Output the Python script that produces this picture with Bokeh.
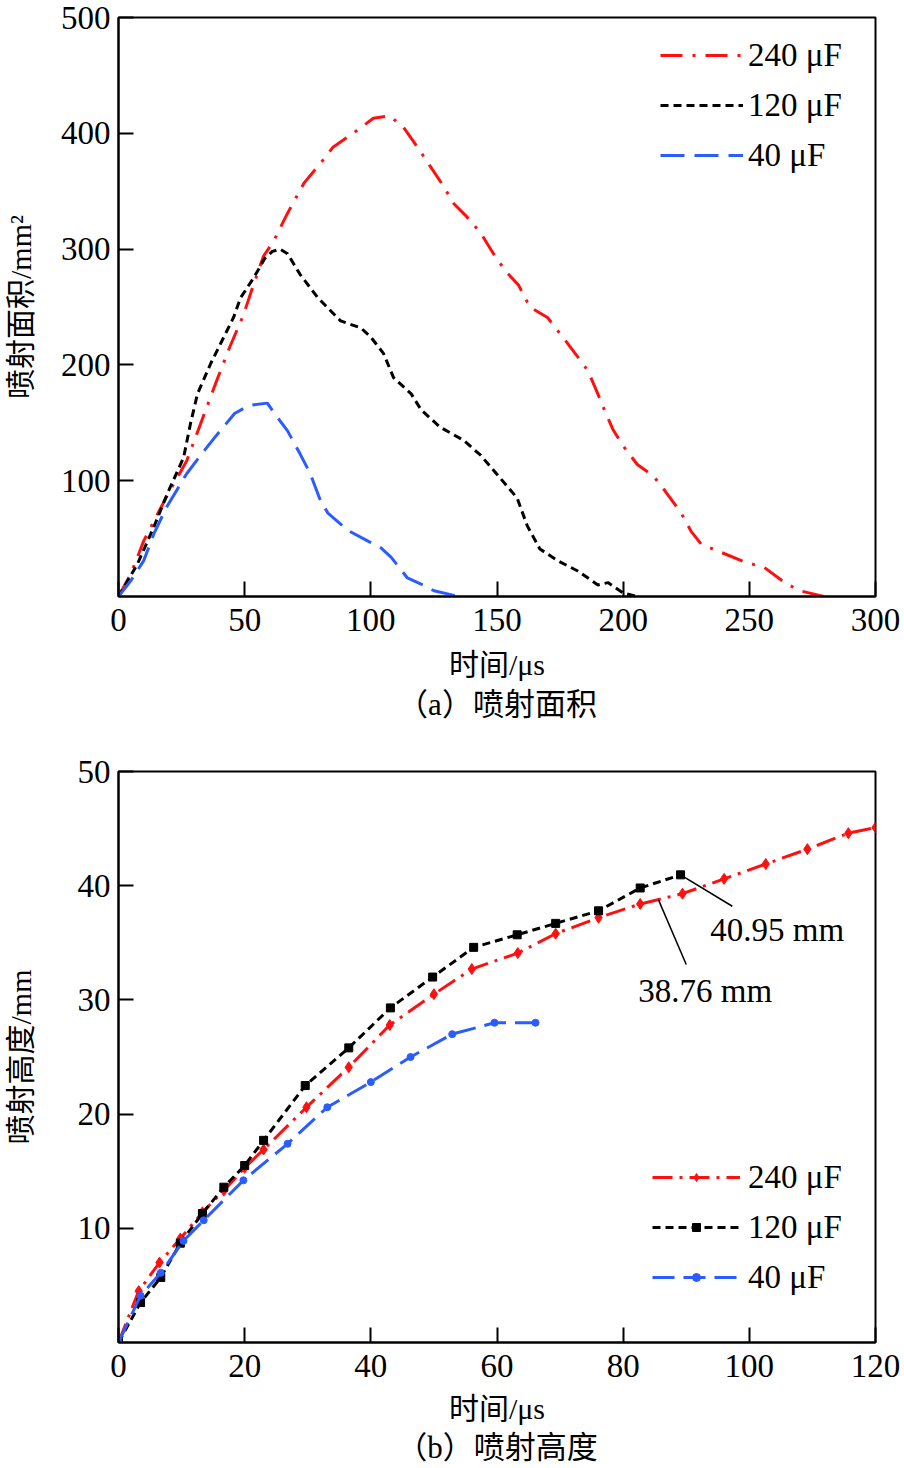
from bokeh.plotting import figure
from bokeh.models import Range1d, FixedTicker, Legend, LegendItem, Title, Label
from bokeh.layouts import column
from bokeh.embed import file_html
from bokeh.resources import INLINE

# ---------------- data: (a) injection area ----------------
t_240 = [0, 5, 10, 19, 27, 32.5, 39, 44, 49.5, 53, 57.5, 61.5, 67, 73.5, 80, 85, 93, 101, 107.5,
         113, 118.5, 123.7, 128, 133, 138, 143.5, 148.6, 153.4, 158.5, 163, 170, 175, 182, 186,
         189, 193, 196, 200, 205.6, 212, 217, 223, 227, 231, 239, 248, 256, 264, 270, 279.5]
a_240 = [0, 20, 48, 86, 117, 149, 187, 215, 243, 266, 294, 307, 331, 357, 374, 388, 400, 413, 415,
         405, 388, 371, 357, 339, 328, 314, 296, 281, 269, 250, 241, 227, 207, 195,
         180, 159, 144, 130, 114, 104, 90, 72, 56, 45, 38, 30, 25, 12, 5, 0]

t_120 = [0, 7.5, 14, 19.4, 25.8, 28.5, 31.3, 36.5, 45.6, 48.4, 53.5, 58, 61, 64, 67, 72, 79, 88,
         96, 100, 105, 109, 116, 120, 127.6, 136.7, 143.5, 151, 158, 162, 167, 174, 182, 190,
         194, 200, 205.6]
a_120 = [0, 28, 60, 89, 120, 149, 175, 201, 241, 258, 275, 292, 298, 300, 296, 278, 258, 238,
         232, 224, 210, 189, 175, 161, 146, 135, 122, 103, 85, 61, 41, 31, 22, 10,
         12, 3, 0]

t_40 = [0, 5, 10, 14, 19, 27, 34, 38, 46, 51.7, 59, 61.5, 67, 72, 76, 80, 83, 91, 98.7, 104,
        108, 114.5, 119.7, 125, 133, 136]
a_40 = [0, 14, 31, 54, 77, 106, 126, 137, 158, 165, 167, 159, 143, 123, 106, 83, 72, 57, 48, 42,
        34, 16, 11, 5, 1, 0]

# ---------------- data: (b) injection height ----------------
h_t_240 = [0, 3.2, 6.5, 9.8, 13.3, 16.7, 20, 23, 29.8, 36.5, 43, 50, 56, 63.3, 69.3, 76.1,
           82.7, 89.4, 96, 102.6, 109.2, 115.7, 120]
h_v_240 = [0, 4.5, 7.0, 9.1, 11.4, 13.3, 15.3, 16.9, 20.6, 24.1, 27.8, 30.5, 32.7, 34.1, 35.8,
           37.2, 38.4, 39.3, 40.6, 41.9, 43.2, 44.6, 45.1]

h_t_120 = [0, 3.5, 6.7, 9.8, 13.3, 16.7, 20, 23, 29.6, 36.5, 43.1, 49.8, 56.3, 63.2, 69.3,
           76.1, 82.7, 89.1]
h_v_120 = [0, 3.5, 5.7, 8.7, 11.3, 13.6, 15.5, 17.7, 22.5, 25.8, 29.3, 32.0, 34.6, 35.7, 36.7,
           37.8, 39.8, 40.95]

h_t_40 = [0, 3.5, 6.7, 10.3, 13.5, 19.8, 26.8, 33.1, 40, 46.3, 52.9, 59.6, 66.1]
h_v_40 = [0, 4.1, 6.1, 8.9, 10.7, 14.2, 17.4, 20.6, 22.8, 25.0, 27.0, 28.0, 28.0]

labels = ["240 \u03bcF", "120 \u03bcF", "40 \u03bcF"]
ticks_a_x = [0, 50, 100, 150, 200, 250, 300]
ticks_a_y = [100, 200, 300, 400, 500]
ticks_b_x = [0, 20, 40, 60, 80, 100, 120]
ticks_b_y = [10, 20, 30, 40, 50]

# annotated peak values (b)
ann_black = (89.1, 40.95, "40.95 mm")
ann_red = (85.6, 38.76, "38.76 mm")

RED = "#ff1010"
BLACK = "#000000"
BLUE = "#2a5cff"
SERIF = "Liberation Serif"
CJK = "Liberation Serif, Noto Sans CJK SC"


def style(p, xticks, yticks, ylab_standoff, xlab_standoff):
    p.xgrid.visible = False
    p.ygrid.visible = False
    p.outline_line_color = "black"
    p.outline_line_width = 2
    p.background_fill_color = "white"
    p.border_fill_color = "white"
    p.xaxis[0].ticker = FixedTicker(ticks=xticks)
    p.yaxis[0].ticker = FixedTicker(ticks=yticks)
    for ax in (p.xaxis[0], p.yaxis[0]):
        ax.axis_line_width = 2
        ax.major_tick_line_width = 2
        ax.major_tick_in = 15
        ax.major_tick_out = 0
        ax.minor_tick_line_color = None
        ax.major_label_text_font = SERIF
        ax.major_label_text_font_size = "33px"
        ax.major_label_text_color = "black"
        ax.axis_label_text_font = CJK
        ax.axis_label_text_font_size = "30px"
        ax.axis_label_text_font_style = "normal"
        ax.axis_label_text_color = "black"
    p.xaxis[0].major_label_standoff = 12
    p.xaxis[0].axis_label_standoff = xlab_standoff
    p.yaxis[0].major_label_standoff = 8
    p.yaxis[0].axis_label_standoff = ylab_standoff


def caption(p, text, standoff):
    p.add_layout(Title(text=text, align="center", text_font=CJK, text_color="black",
                       text_font_size="31px", text_font_style="normal", standoff=standoff),
                 "below")


# ---------------- figure (a) ----------------
p1 = figure(width=904, height=738, output_backend="svg", toolbar_location=None,
            x_range=Range1d(0, 300), y_range=Range1d(0, 500),
            x_axis_label="时间/\u03bcs", y_axis_label="喷射面积/mm\u00b2",
            min_border_left=118, min_border_right=29, min_border_top=17, min_border_bottom=142)
style(p1, ticks_a_x, ticks_a_y, 21, 14)

r1 = p1.line(t_240, a_240, line_color=RED, line_width=3, line_dash="22 10 3 10")
r2 = p1.line(t_120, a_120, line_color=BLACK, line_width=3, line_dash="8 5")
r3 = p1.line(t_40, a_40, line_color=BLUE, line_width=3, line_dash="24 10")

leg1 = Legend(items=[LegendItem(label=labels[0], renderers=[r1]),
                     LegendItem(label=labels[1], renderers=[r2]),
                     LegendItem(label=labels[2], renderers=[r3])],
              location=(542, 419), glyph_width=83, glyph_height=44, label_height=44,
              label_standoff=5, spacing=6, padding=0, margin=0,
              border_line_color=None, background_fill_alpha=0,
              label_text_font=SERIF, label_text_font_size="33px", label_text_color="black")
p1.add_layout(leg1)
caption(p1, "（a）喷射面积", 3)

# ---------------- figure (b) ----------------
p2 = figure(width=904, height=730, output_backend="svg", toolbar_location=None,
            x_range=Range1d(0, 120), y_range=Range1d(0, 50),
            x_axis_label="时间/\u03bcs", y_axis_label="喷射高度/mm",
            min_border_left=118, min_border_right=29, min_border_top=33, min_border_bottom=126)
style(p2, ticks_b_x, ticks_b_y, 38, 12)

q1 = p2.line(h_t_240, h_v_240, line_color=RED, line_width=3, line_dash="20 7 3 7")
q1m = p2.scatter(h_t_240, h_v_240, marker="diamond", size=11, fill_color=RED, line_color=RED)
q2 = p2.line(h_t_120, h_v_120, line_color=BLACK, line_width=3, line_dash="8 5")
q2m = p2.scatter(h_t_120, h_v_120, marker="square", size=8, fill_color=BLACK, line_color=BLACK)
q3 = p2.line(h_t_40, h_v_40, line_color=BLUE, line_width=3, line_dash="22 9")
q3m = p2.scatter(h_t_40, h_v_40, marker="circle", size=7, fill_color=BLUE, line_color=BLUE)

leg2 = Legend(items=[LegendItem(label=labels[0], renderers=[q1, q1m]),
                     LegendItem(label=labels[1], renderers=[q2, q2m]),
                     LegendItem(label=labels[2], renderers=[q3, q3m])],
              location=(534, 43), glyph_width=88, glyph_height=20, label_height=44,
              label_standoff=8, spacing=6, padding=0, margin=0,
              border_line_color=None, background_fill_alpha=0,
              label_text_font=SERIF, label_text_font_size="33px", label_text_color="black")
p2.add_layout(leg2)

# leader lines and annotation texts
bx, by, btxt = ann_black
rx, ry, rtxt = ann_red
p2.segment(x0=[bx, rx], y0=[by, ry], x1=[bx + 8.2, rx + 4.4], y1=[by - 2.75, ry - 5.66],
           line_color="black", line_width=1.5)
p2.add_layout(Label(x=bx + 4.7, y=by - 4.85, text=btxt, text_font=SERIF, text_font_size="33px",
                    text_color="black", text_baseline="middle", text_align="left"))
p2.add_layout(Label(x=rx - 3.2, y=ry - 7.95, text=rtxt, text_font=SERIF, text_font_size="33px",
                    text_color="black", text_baseline="middle", text_align="left"))

caption(p2, "（b）喷射高度", 0)

layout = column(p1, p2, spacing=0)
open("out.html", "w").write(file_html(layout, INLINE))
